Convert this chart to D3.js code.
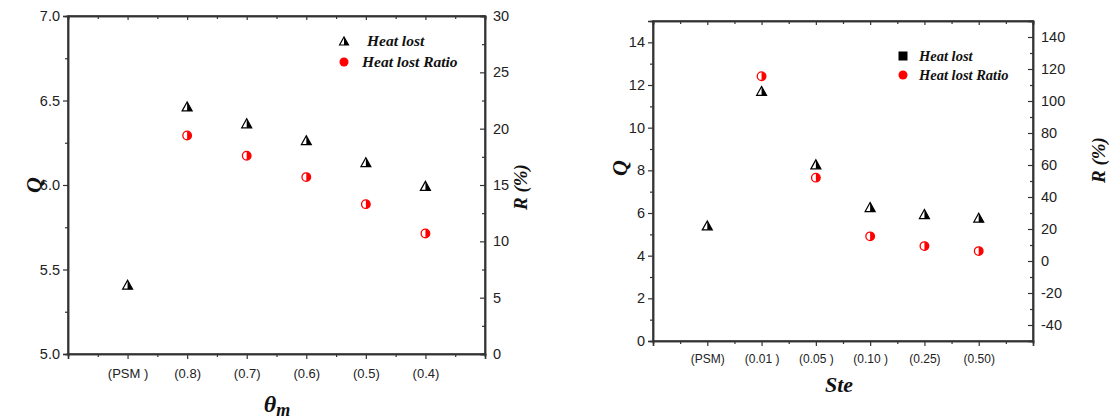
<!DOCTYPE html>
<html>
<head>
<meta charset="utf-8">
<script src="https://cdn.jsdelivr.net/npm/d3@7"></script>
<style>
  html, body { margin: 0; padding: 0; background: #fff; }
  svg { display: block; }
  .tick text { font-family: "Liberation Sans", Arial, sans-serif; fill: #222; }
  .serif { font-family: "Liberation Serif", "Times New Roman", serif; font-weight: bold; font-style: italic; fill: #111; }
</style>
</head>
<body>
<svg id="chart" width="1110" height="420"></svg>
<script>
// ---- Panel A: effect of theta_m ----
const catsA = ["(PSM )", "(0.8)", "(0.7)", "(0.6)", "(0.5)", "(0.4)"];
const heatLostA = [5.41, 6.465, 6.365, 6.265, 6.135, 5.995];
const ratioA = [null, 19.4, 17.6, 15.7, 13.3, 10.7];
const qTicksA = [5.0, 5.5, 6.0, 6.5, 7.0];
const rTicksA = [0, 5, 10, 15, 20, 25, 30];

// ---- Panel B: effect of Ste ----
const catsB = ["(PSM)", "(0.01 )", "(0.05 )", "(0.10 )", "(0.25)", "(0.50)"];
const heatLostB = [5.42, 11.72, 8.28, 6.28, 5.95, 5.78];
const ratioB = [null, 115.5, 52.1, 15.4, 9.3, 6.2];
const qTicksB = [0, 2, 4, 6, 8, 10, 12, 14];
const rTicksB = [-40, -20, 0, 20, 40, 60, 80, 100, 120, 140];

const svg = d3.select("#chart");
const AXIS = "#333";
const intFmt = d => String(d); // plain hyphen-minus for negatives

function halfTriangle(g, x, y, w, h) {
  const t = [[x - w / 2, y + h / 2], [x, y - h / 2], [x + w / 2, y + h / 2]];
  g.append("path").attr("d", d3.line()(t) + "Z")
    .attr("fill", "#fff").attr("stroke", "#000").attr("stroke-width", 1.2);
  g.append("path").attr("d", d3.line()([[x, y - h / 2], [x + w / 2, y + h / 2], [x, y + h / 2]]) + "Z")
    .attr("fill", "#000");
}

function halfCircle(g, x, y, r) {
  g.append("circle").attr("cx", x).attr("cy", y).attr("r", r)
    .attr("fill", "#fff").attr("stroke", "#f00").attr("stroke-width", 1.3);
  g.append("path")
    .attr("d", `M${x},${y - r} A${r},${r} 0 0 1 ${x},${y + r} Z`)
    .attr("fill", "#f00");
}

function panel(cfg) {
  const { x0, x1, y0, y1 } = cfg;
  const g = svg.append("g");

  const x = d3.scaleLinear().domain([0, cfg.cats.length + 1]).range([x0, x1]);
  const yL = d3.scaleLinear().domain(cfg.qDomain).range([y1, y0]);
  const yR = d3.scaleLinear().domain(cfg.rDomain).range([y1, y0]);

  const catIdx = cfg.cats.map((_, i) => i + 1);
  const halfIdx = d3.range(0.5, cfg.cats.length + 1.5, 1);

  // frame
  g.append("rect").attr("x", x0).attr("y", y0).attr("width", x1 - x0).attr("height", y1 - y0)
    .attr("fill", "none").attr("stroke", AXIS).attr("stroke-width", 1.5);

  // bottom axis: major ticks at edges and categories, minor halfway
  const bottom = g.append("g").attr("transform", `translate(0,${y1})`);
  const majorX = d3.range(0, cfg.cats.length + 2);
  bottom.call(d3.axisBottom(x).tickValues(majorX).tickSize(5)
    .tickFormat(d => (d >= 1 && d <= cfg.cats.length) ? cfg.cats[d - 1] : ""));
  bottom.selectAll(".tick text").attr("font-size", cfg.xFont).attr("dy", cfg.xDy);
  bottom.append("g").call(d3.axisBottom(x).tickValues(halfIdx).tickSize(3).tickFormat(""));

  // top axis: inward ticks
  const top = g.append("g").attr("transform", `translate(0,${y0})`);
  top.call(d3.axisBottom(x).tickValues(majorX).tickSize(4).tickFormat(""));
  top.append("g").call(d3.axisBottom(x).tickValues(halfIdx).tickSize(3).tickFormat(""));

  // left axis (Q)
  const left = g.append("g").attr("transform", `translate(${x0},0)`);
  left.call(d3.axisLeft(yL).tickValues(cfg.qTicks).tickSize(5).tickPadding(3)
    .tickFormat(cfg.qFormat));
  left.selectAll(".tick text").attr("font-size", 14.5);
  left.append("g").call(d3.axisLeft(yL).tickValues(cfg.qMinor).tickSize(3).tickFormat(""));

  // right axis (R %): inward ticks
  const right = g.append("g").attr("transform", `translate(${x1},0)`);
  right.call(d3.axisLeft(yR).tickValues(cfg.rTicks).tickSize(5).tickFormat(""));
  right.append("g").call(d3.axisLeft(yR).tickValues(cfg.rMinor).tickSize(3).tickFormat(""));
  right.append("g").call(d3.axisRight(yR).tickValues(cfg.rTicks).tickSize(0).tickPadding(cfg.rPad)
    .tickFormat(intFmt))
    .call(s => s.select(".domain").remove())
    .selectAll(".tick text").attr("font-size", 14.5);

  g.selectAll(".domain").attr("stroke", AXIS).attr("stroke-width", 1.5);
  g.selectAll(".tick line").attr("stroke", AXIS).attr("stroke-width", 1.2);

  // data markers
  const marks = g.append("g");
  cfg.heat.forEach((v, i) => halfTriangle(marks, x(catIdx[i]), yL(v), 10, 9));
  cfg.ratio.forEach((v, i) => { if (v != null) halfCircle(marks, x(catIdx[i]), yR(v), 4.3); });

  // legend
  const lg = g.append("g");
  cfg.legendMarker(lg, cfg.legX, cfg.legY1);
  lg.append("text").attr("class", "serif").attr("x", cfg.legTX1).attr("y", cfg.legY1 + 5)
    .attr("font-size", cfg.legFont).text("Heat lost");
  lg.append("circle").attr("cx", cfg.legX).attr("cy", cfg.legY2).attr("r", 4.5).attr("fill", "#f00");
  lg.append("text").attr("class", "serif").attr("x", cfg.legTX2).attr("y", cfg.legY2 + 5)
    .attr("font-size", cfg.legFont).text("Heat lost Ratio");

  // axis titles
  g.append("text").attr("class", "serif").attr("font-size", 22)
    .attr("transform", `translate(${cfg.qLabX},${cfg.qLabY}) rotate(-90)`)
    .attr("text-anchor", "middle").text("Q");
  g.append("text").attr("class", "serif").attr("font-size", 19)
    .attr("transform", `translate(${cfg.rLabX},${cfg.rLabY}) rotate(-90)`)
    .attr("text-anchor", "middle").text("R (%)");
  cfg.xTitle(g);
}

panel({
  x0: 68, x1: 485, y0: 16, y1: 354,
  cats: catsA, heat: heatLostA, ratio: ratioA,
  qDomain: [5, 7], rDomain: [0, 30],
  qTicks: qTicksA, qMinor: [5.25, 5.75, 6.25, 6.75], qFormat: d3.format(".1f"),
  rTicks: rTicksA, rMinor: [2.5, 7.5, 12.5, 17.5, 22.5, 27.5], rPad: 8,
  xFont: 13, xDy: "1.2em",
  legX: 344, legY1: 41, legY2: 62, legTX1: 367, legTX2: 362, legFont: 15.5,
  legendMarker: (lg, x, y) => halfTriangle(lg, x, y, 9, 8),
  qLabX: 41, qLabY: 185, rLabX: 527, rLabY: 187,
  xTitle: g => {
    const t = g.append("text").attr("class", "serif").attr("x", 277).attr("y", 412)
      .attr("text-anchor", "middle").attr("font-size", 24);
    t.append("tspan").text("θ");
    t.append("tspan").attr("font-size", 18).attr("dy", 4).text("m");
  }
});

panel({
  x0: 653, x1: 1033, y0: 21, y1: 341,
  cats: catsB, heat: heatLostB, ratio: ratioB,
  qDomain: [0, 15], rDomain: [-50, 150],
  qTicks: qTicksB, qMinor: [1, 3, 5, 7, 9, 11, 13], qFormat: intFmt,
  rTicks: rTicksB, rMinor: [-30, -10, 10, 30, 50, 70, 90, 110, 130], rPad: 8,
  xFont: 12, xDy: "1.2em",
  legX: 903, legY1: 56, legY2: 75, legTX1: 919, legTX2: 919, legFont: 14.5,
  legendMarker: (lg, x, y) => lg.append("rect").attr("x", x - 4.5).attr("y", y - 4.5)
    .attr("width", 9).attr("height", 9).attr("fill", "#000"),
  qLabX: 627, qLabY: 168, rLabX: 1105, rLabY: 160,
  xTitle: g => {
    g.append("text").attr("class", "serif").attr("x", 839).attr("y", 392)
      .attr("text-anchor", "middle").attr("font-size", 22).text("Ste");
  }
});
</script>
</body>
</html>
